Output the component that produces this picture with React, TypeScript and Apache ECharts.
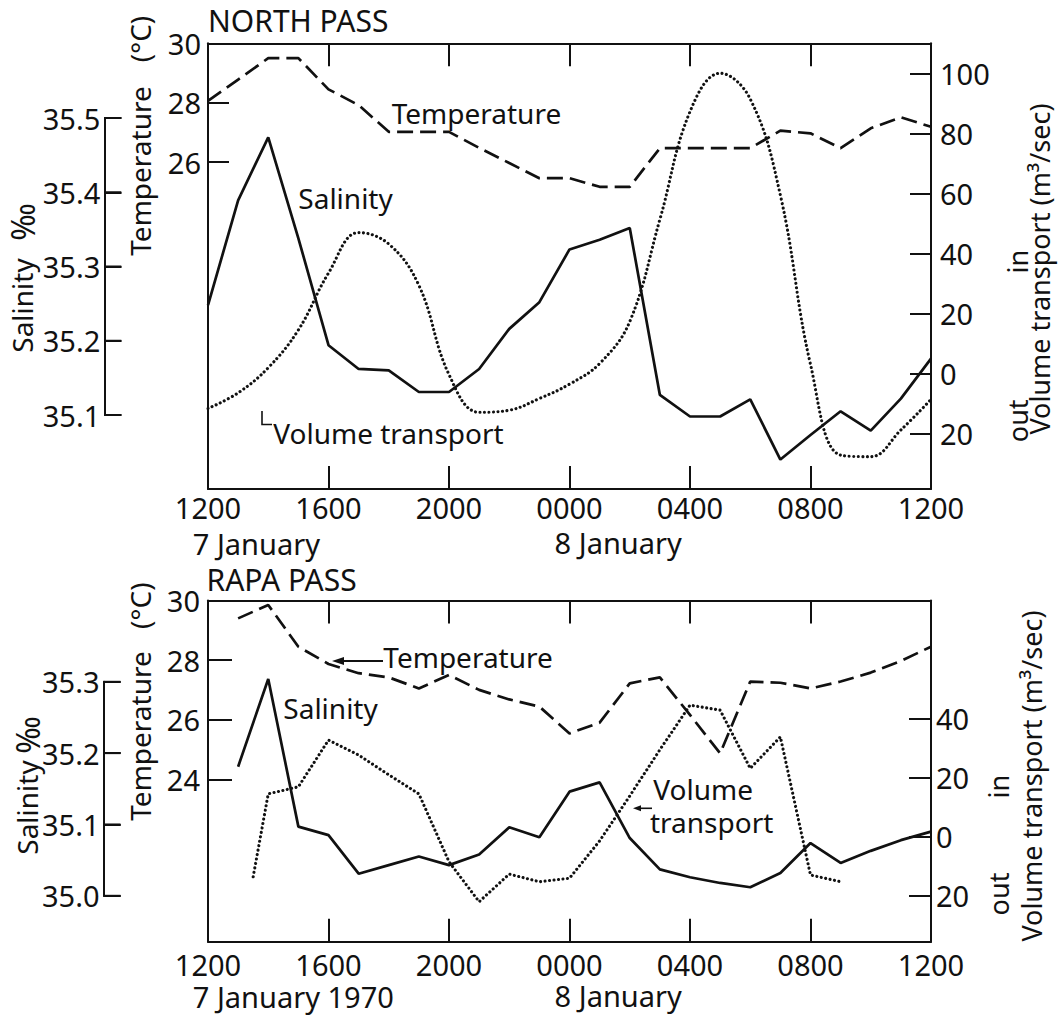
import React, { useEffect, useRef } from "react";
import * as echarts from "echarts";

// ---------- data (hours after 1200, 7 January) ----------
const hoursNorth = [0, 1, 2, 3, 4, 5, 6, 7, 8, 9, 10, 11, 12, 13, 14, 15, 16, 17, 18, 19, 20, 21, 22, 23, 24];
const northTemp = [28.06, 28.78, 29.5, 29.5, 28.45, 27.92, 27.02, 27.02, 27.02, 26.48, 25.97, 25.46, 25.46, 25.17, 25.17, 26.47, 26.47, 26.47, 26.47, 27.06, 26.97, 26.47, 27.14, 27.51, 27.19];
const northSal = [35.248, 35.389, 35.474, 35.338, 35.194, 35.162, 35.16, 35.131, 35.131, 35.162, 35.216, 35.252, 35.323, 35.336, 35.352, 35.127, 35.098, 35.098, 35.121, 35.04, 35.073, 35.105, 35.079, 35.122, 35.176];
const northVol = [-11.7, -6.5, 1.9, 14.5, 33.5, 47.0, 43.2, 29.4, -0.4, -13.0, -12.3, -8.4, -3.6, 3.3, 17.3, 51.4, 87.4, 100.2, 91.6, 59.5, 3.0, -27.3, -27.8, -18.9, -8.7];

const hoursRapa = [1, 2, 3, 4, 5, 6, 7, 8, 9, 10, 11, 12, 13, 14, 15, 16, 17, 18, 19, 20, 21, 22, 23, 24];
const rapaTemp = [29.4, 29.85, 28.45, 27.87, 27.56, 27.42, 27.05, 27.5, 27.0, 26.68, 26.44, 25.54, 25.9, 27.22, 27.42, 26.16, 24.87, 27.28, 27.24, 27.05, 27.28, 27.58, 27.97, 28.45];
const rapaSal = [35.181, 35.304, 35.097, 35.085, 35.031, 35.043, 35.055, 35.043, 35.058, 35.096, 35.082, 35.146, 35.159, 35.081, 35.037, 35.026, 35.018, 35.012, 35.032, 35.074, 35.046, 35.063, 35.078, 35.09];
const hoursRapaVol = [1.5, 2, 3, 4, 5, 6, 7, 8, 9, 10, 11, 12, 13, 14, 15, 16, 17, 18, 19, 20, 21];
const rapaVol = [-13.7, 14.5, 16.9, 32.8, 27.7, 21.0, 14.5, -8.6, -22.2, -12.8, -15.4, -14.2, -1.5, 13.8, 29.5, 44.7, 43.0, 23.2, 33.9, -13.1, -15.4];

// ---------- tick labels ----------
const xTickHours = [0, 4, 8, 12, 16, 20, 24];
const xTickLabels = ["1200", "1600", "2000", "0000", "0400", "0800", "1200"];
const xInnerTicks = [4, 8, 12, 16, 20];
const northTempTicks = [26, 28, 30];
const northVolTicks = [-20, 0, 20, 40, 60, 80, 100];
const northSalTicks = [35.1, 35.2, 35.3, 35.4, 35.5];
const rapaTempTicks = [24, 26, 28, 30];
const rapaVolTicks = [-20, 0, 20, 40];
const rapaSalTicks = [35.0, 35.1, 35.2, 35.3];
// salinity display ticks are laid out in tenths (351 = 35.1 ‰) so every tick is an integer
const SAL_TENTHS = 10;

const INK = "#111";
const FONT = "Noto Sans";
const AXIS_LINE = { show: true, onZero: false, lineStyle: { color: INK, width: 2 } };
const TICK_STYLE = { color: INK, width: 2 };
const LABEL_BASE = { color: INK, fontFamily: FONT, fontSize: 29, lineHeight: 22 };

// plot frame, px
const PLOT_LEFT = 208;
const PLOT_W = 723;
const HOUR_PX = PLOT_W / 24;
const SAL_TICK = 17;

function xAxes(gridIndex: number, labelMargin: number) {
  return [
    {
      gridIndex, type: "value", min: 0, max: 24, position: "bottom",
      axisLine: AXIS_LINE,
      axisTick: { show: true, inside: true, length: 23, customValues: xInnerTicks, lineStyle: TICK_STYLE },
      axisLabel: {
        ...LABEL_BASE, margin: labelMargin, customValues: xTickHours,
        formatter: (v: number) => xTickLabels[xTickHours.indexOf(Math.round(v))] ?? "",
      },
      splitLine: { show: false },
    },
    {
      gridIndex, type: "value", min: 0, max: 24, position: "top",
      axisLine: AXIS_LINE,
      axisTick: { show: true, inside: true, length: 23, customValues: xInnerTicks, lineStyle: TICK_STYLE },
      axisLabel: { show: false },
      splitLine: { show: false },
    },
  ];
}

// salinity data grid starts at the salinity axis line; its hidden time axis is
// extended to the left so that hour 0 still falls on the plot frame
function salDataXAxis(gridIndex: number, axisX: number) {
  return {
    gridIndex, type: "value", min: -(PLOT_LEFT - axisX) / HOUR_PX, max: 24, show: false,
    axisLine: { onZero: false },
  };
}
function salDataYAxis(gridIndex: number, ticks: number[]) {
  return { gridIndex, type: "value", min: ticks[0], max: ticks[ticks.length - 1], show: false, axisLine: { onZero: false } };
}
// narrow display grid (same vertical extent): axis line, ticks and labels
function salShowXAxis(gridIndex: number) {
  return { gridIndex, type: "value", min: 0, max: 1, show: false, axisLine: { onZero: false } };
}
function salShowYAxis(gridIndex: number, ticks: number[]) {
  const lo = Math.round(ticks[0] * SAL_TENTHS);
  const hi = Math.round(ticks[ticks.length - 1] * SAL_TENTHS);
  return {
    gridIndex, type: "value", min: lo, max: hi, interval: 1, position: "left",
    axisLine: AXIS_LINE,
    axisTick: { show: true, inside: true, length: SAL_TICK, lineStyle: TICK_STYLE },
    axisLabel: {
      ...LABEL_BASE, margin: 4, showMinLabel: true, showMaxLabel: true,
      formatter: (v: number) => (v / SAL_TENTHS).toFixed(1),
    },
    splitLine: { show: true, lineStyle: { color: INK, width: 2, type: "solid" } },
  };
}

// short tick strokes for the salinity scale, placed with the same linear mapping as its grid
function salTickMarks(ticks: number[], axisX: number, top: number, height: number) {
  const lo = ticks[0], hi = ticks[ticks.length - 1];
  return ticks.map((v) => {
    const y = top + ((hi - v) / (hi - lo)) * height;
    return {
      type: "line", silent: true, z: 10,
      shape: { x1: axisX, y1: y, x2: axisX + SAL_TICK, y2: y },
      style: { stroke: INK, lineWidth: 2 },
    };
  });
}

function txt(text: string, x: number, y: number, size: number, rot = 0, align = "left") {
  return {
    type: "text", x, y, rotation: rot, silent: true,
    style: {
      text, fill: INK, fontSize: size, fontFamily: FONT, lineHeight: Math.round(size * 0.78),
      align, verticalAlign: "middle",
    },
  };
}

export default function App() {
  const ref = useRef<HTMLDivElement>(null);
  useEffect(() => {
    if (!ref.current) return;
    const chart = echarts.init(ref.current, null, { renderer: "svg" });
    const L = PLOT_LEFT, W = PLOT_W;
    const SAL_X1 = 104.3, SAL_X2 = 103.5;
    const N_SAL_TOP = 118, N_SAL_H = 297;
    const R_SAL_TOP = 681.8, R_SAL_H = 214;
    const R90 = Math.PI / 2;
    const DOTS = { color: INK, width: 3.1, type: [0.01, 4.5], cap: "round" };
    const DASH = { color: INK, width: 2.7, type: [16, 7] };
    const option: any = {
      animation: false,
      backgroundColor: "#fff",
      grid: [
        { left: L, top: 43.3, width: W, height: 445.7, outerBoundsMode: "none" },
        { left: SAL_X1, top: N_SAL_TOP, width: L + W - SAL_X1, height: N_SAL_H, outerBoundsMode: "none" },
        { left: SAL_X1, top: N_SAL_TOP, width: SAL_TICK, height: N_SAL_H, outerBoundsMode: "none" },
        { left: L, top: 600.5, width: W, height: 341.2, outerBoundsMode: "none" },
        { left: SAL_X2, top: R_SAL_TOP, width: L + W - SAL_X2, height: R_SAL_H, outerBoundsMode: "none" },
        { left: SAL_X2, top: R_SAL_TOP, width: SAL_TICK, height: R_SAL_H, outerBoundsMode: "none" },
      ],
      xAxis: [
        ...xAxes(0, 7),            // 0, 1
        salDataXAxis(1, SAL_X1),   // 2
        salShowXAxis(2),           // 3
        ...xAxes(3, 12),           // 4, 5
        salDataXAxis(4, SAL_X2),   // 6
        salShowXAxis(5),           // 7
      ],
      yAxis: [
        // 0: north temperature
        {
          gridIndex: 0, type: "value", min: 15, max: 30, position: "left",
          axisLine: AXIS_LINE,
          axisTick: { show: true, inside: true, length: 21, customValues: northTempTicks, lineStyle: TICK_STYLE },
          axisLabel: { ...LABEL_BASE, margin: 7, customValues: northTempTicks },
          splitLine: { show: false },
        },
        // 1: north volume transport
        {
          gridIndex: 0, type: "value", min: -38.6, max: 110.2, position: "right",
          axisLine: AXIS_LINE,
          axisTick: { show: true, inside: true, length: 21, customValues: northVolTicks, lineStyle: TICK_STYLE },
          axisLabel: { ...LABEL_BASE, margin: 9, customValues: northVolTicks, formatter: (v: number) => String(Math.abs(Math.round(v))) },
          splitLine: { show: false },
        },
        // 2: north salinity (data scale)
        salDataYAxis(1, northSalTicks),
        // 3: north salinity (shown)
        salShowYAxis(2, northSalTicks),
        // 4: rapa temperature
        {
          gridIndex: 3, type: "value", min: 18.55, max: 30, position: "left",
          axisLine: AXIS_LINE,
          axisTick: { show: true, inside: true, length: 24, customValues: rapaTempTicks, lineStyle: TICK_STYLE },
          axisLabel: { ...LABEL_BASE, margin: 8, customValues: rapaTempTicks },
          splitLine: { show: false },
        },
        // 5: rapa volume transport
        {
          gridIndex: 3, type: "value", min: -35.8, max: 80.3, position: "right",
          axisLine: AXIS_LINE,
          axisTick: { show: true, inside: true, length: 22, customValues: rapaVolTicks, lineStyle: TICK_STYLE },
          axisLabel: { ...LABEL_BASE, margin: 5, customValues: rapaVolTicks, formatter: (v: number) => String(Math.abs(Math.round(v))) },
          splitLine: { show: false },
        },
        // 6: rapa salinity (data scale)
        salDataYAxis(4, rapaSalTicks),
        // 7: rapa salinity (shown)
        salShowYAxis(5, rapaSalTicks),
      ],
      series: [
        {
          name: "North Temperature", type: "line", xAxisIndex: 0, yAxisIndex: 0, symbol: "none",
          data: hoursNorth.map((h, i) => [h, northTemp[i]]),
          lineStyle: DASH,
        },
        {
          name: "North Salinity", type: "line", xAxisIndex: 2, yAxisIndex: 2, symbol: "none", clip: false,
          data: hoursNorth.map((h, i) => [h, northSal[i]]),
          lineStyle: { color: INK, width: 2.7 },
        },
        {
          name: "North Volume transport", type: "line", xAxisIndex: 0, yAxisIndex: 1, symbol: "none", smooth: 0.4,
          data: hoursNorth.map((h, i) => [h, northVol[i]]),
          lineStyle: DOTS,
        },
        {
          name: "Rapa Temperature", type: "line", xAxisIndex: 4, yAxisIndex: 4, symbol: "none",
          data: hoursRapa.map((h, i) => [h, rapaTemp[i]]),
          lineStyle: DASH,
        },
        {
          name: "Rapa Salinity", type: "line", xAxisIndex: 6, yAxisIndex: 6, symbol: "none", clip: false,
          data: hoursRapa.map((h, i) => [h, rapaSal[i]]),
          lineStyle: { color: INK, width: 2.7 },
        },
        {
          name: "Rapa Volume transport", type: "line", xAxisIndex: 4, yAxisIndex: 5, symbol: "none",
          data: hoursRapaVol.map((h, i) => [h, rapaVol[i]]),
          lineStyle: DOTS,
        },
      ],
      graphic: [
        ...salTickMarks(northSalTicks, SAL_X1, N_SAL_TOP, N_SAL_H),
        ...salTickMarks(rapaSalTicks, SAL_X2, R_SAL_TOP, R_SAL_H),
        txt("NORTH PASS", 208, 20, 30),
        txt("RAPA PASS", 206.5, 579, 30),
        // rotated axis titles
        txt("Temperature", 140, 171, 28, R90, "center"),
        txt("(°C)", 140, 39, 28, R90, "center"),
        txt("Salinity", 22, 305.5, 28, R90, "center"),
        txt("‰", 22, 222, 32, R90, "center"),
        txt("Temperature", 140, 736, 28, R90, "center"),
        txt("(°C)", 140, 605.7, 28, R90, "center"),
        txt("Salinity", 27, 807.5, 28, R90, "center"),
        txt("‰", 27, 735, 32, R90, "center"),
        txt("Volume transport (m³/sec)", 1039, 269, 27, R90, "center"),
        txt("in", 1017.5, 261.7, 27, R90, "center"),
        txt("out", 1017.5, 420.8, 27, R90, "center"),
        txt("Volume transport (m³/sec)", 1031, 776, 27, R90, "center"),
        txt("in", 998.5, 786.7, 27, R90, "center"),
        txt("out", 998.5, 894, 27, R90, "center"),
        // date labels
        txt("7 January", 192.8, 543, 29),
        txt("8 January", 554.6, 542, 29),
        txt("7 January 1970", 192.8, 996, 29),
        txt("8 January", 554.6, 995, 29),
        // series annotations, north
        txt("Temperature", 391.7, 113.3, 28),
        txt("Salinity", 298.3, 198.3, 28),
        txt("Volume transport", 273.3, 433.3, 28),
        { type: "polyline", silent: true, shape: { points: [[262, 411], [262, 424.5], [272, 424.5]] }, style: { stroke: INK, lineWidth: 1.6, fill: "none" } },
        // series annotations, rapa
        txt("Temperature", 383.3, 656.7, 28),
        { type: "line", silent: true, shape: { x1: 383, y1: 661, x2: 340, y2: 661 }, style: { stroke: INK, lineWidth: 1.8 } },
        { type: "polygon", silent: true, shape: { points: [[332, 661], [344, 657], [344, 665]] }, style: { fill: INK } },
        txt("Salinity", 283.3, 708.3, 28),
        txt("Volume", 653.3, 789, 28),
        txt("transport", 650, 822, 28),
        { type: "line", silent: true, shape: { x1: 652, y1: 808.3, x2: 639, y2: 808.3 }, style: { stroke: INK, lineWidth: 1.6 } },
        { type: "polygon", silent: true, shape: { points: [[633, 808.3], [641, 805.3], [641, 811.3]] }, style: { fill: INK } },
      ],
    };
    chart.setOption(option);
    return () => chart.dispose();
  }, []);
  return (
    <div
      ref={ref}
      style={{ position: "absolute", left: 0, top: 0, width: 1063, height: 1017, background: "#fff" }}
    />
  );
}
